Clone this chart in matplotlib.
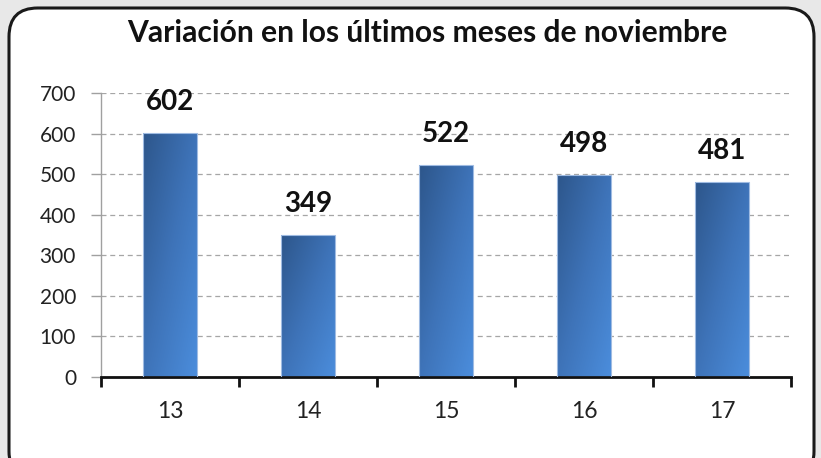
import numpy as np
import matplotlib.pyplot as plt
from matplotlib.patches import FancyBboxPatch
from matplotlib.colors import LinearSegmentedColormap

# Data
years = ["13", "14", "15", "16", "17"]
values = [602, 349, 522, 498, 481]
yticks = [0, 100, 200, 300, 400, 500, 600, 700]
title = "Variación en los últimos meses de noviembre"

W, H = 821, 458
fig = plt.figure(figsize=(W / 100, H / 100), dpi=100)
fig.patch.set_facecolor("#e8e8e8")

# Rounded white frame (bottom runs past the image edge)
frame = FancyBboxPatch((9 / W, -22 / H), 805 / W, (H - 8 + 22) / H,
                       boxstyle="round,pad=0,rounding_size=0.035",
                       transform=fig.transFigure, facecolor="white",
                       edgecolor="#1a1a1a", linewidth=2.2,
                       mutation_aspect=W / H, zorder=-10)
fig.patches.append(frame)

fig.text(427 / W, 1 - 33 / H, title, ha="center", va="center",
         fontsize=21.6, fontweight="bold", family="Lato", color="#111111")

ax = fig.add_axes([101 / W, (H - 377) / H, 690 / W, (377 - 93) / H])
ax.set_facecolor("none")
ax.set_zorder(5)

x = np.arange(1, len(years) + 1)
bw = 0.39
bars = ax.bar(x, values, width=bw, color="none", edgecolor="#9fbbe2",
              linewidth=0.8, zorder=3)

# diagonal gradient for each bar
cmap = LinearSegmentedColormap.from_list("blu", ["#2d568b", "#3e73b8", "#4b8ddc"])
gy, gx = np.mgrid[0:1:100j, 0:1:100j]
grad = (gx + gy) / 2
for b in bars:
    x0, y0 = b.get_x(), b.get_y()
    w, h = b.get_width(), b.get_height()
    im = ax.imshow(grad, cmap=cmap, extent=[x0, x0 + w, y0, y0 + h],
                   origin="upper", aspect="auto", zorder=2.5)
    im.set_clip_path(b)

for xi, v in zip(x, values):
    ax.text(xi, v + 45, str(v), ha="center", va="bottom", fontsize=20,
            fontweight="bold", family="Lato", color="#111111")

ax.set_xlim(0.5, len(years) + 0.5)
ax.set_ylim(0, 700)
ax.set_yticks(yticks)
ax.set_yticklabels([str(t) for t in yticks])
ax.set_xticks(x)
ax.set_xticklabels(years)
ax.set_xticks(np.arange(0.5, len(years) + 1), minor=True)

ax.yaxis.grid(True, linestyle=(0, (4, 3)), color="#a6a6a6", linewidth=0.9)
ax.set_axisbelow(True)

for s in ["top", "right"]:
    ax.spines[s].set_visible(False)
ax.spines["left"].set_color("#a0a0a0")
ax.spines["left"].set_linewidth(1.0)
ax.spines["bottom"].set_color("#111111")
ax.spines["bottom"].set_linewidth(2.0)

ax.tick_params(axis="y", length=7, width=1, color="#a0a0a0", labelsize=15,
               labelcolor="#222222", pad=11)
ax.tick_params(axis="x", which="major", length=0, labelsize=16.5,
               labelcolor="#222222", pad=17)
ax.tick_params(axis="x", which="minor", length=7, width=2, color="#111111")
for lab in ax.get_xticklabels() + ax.get_yticklabels():
    lab.set_family("Lato")

fig.savefig("out.png", dpi=100, facecolor=fig.get_facecolor())
